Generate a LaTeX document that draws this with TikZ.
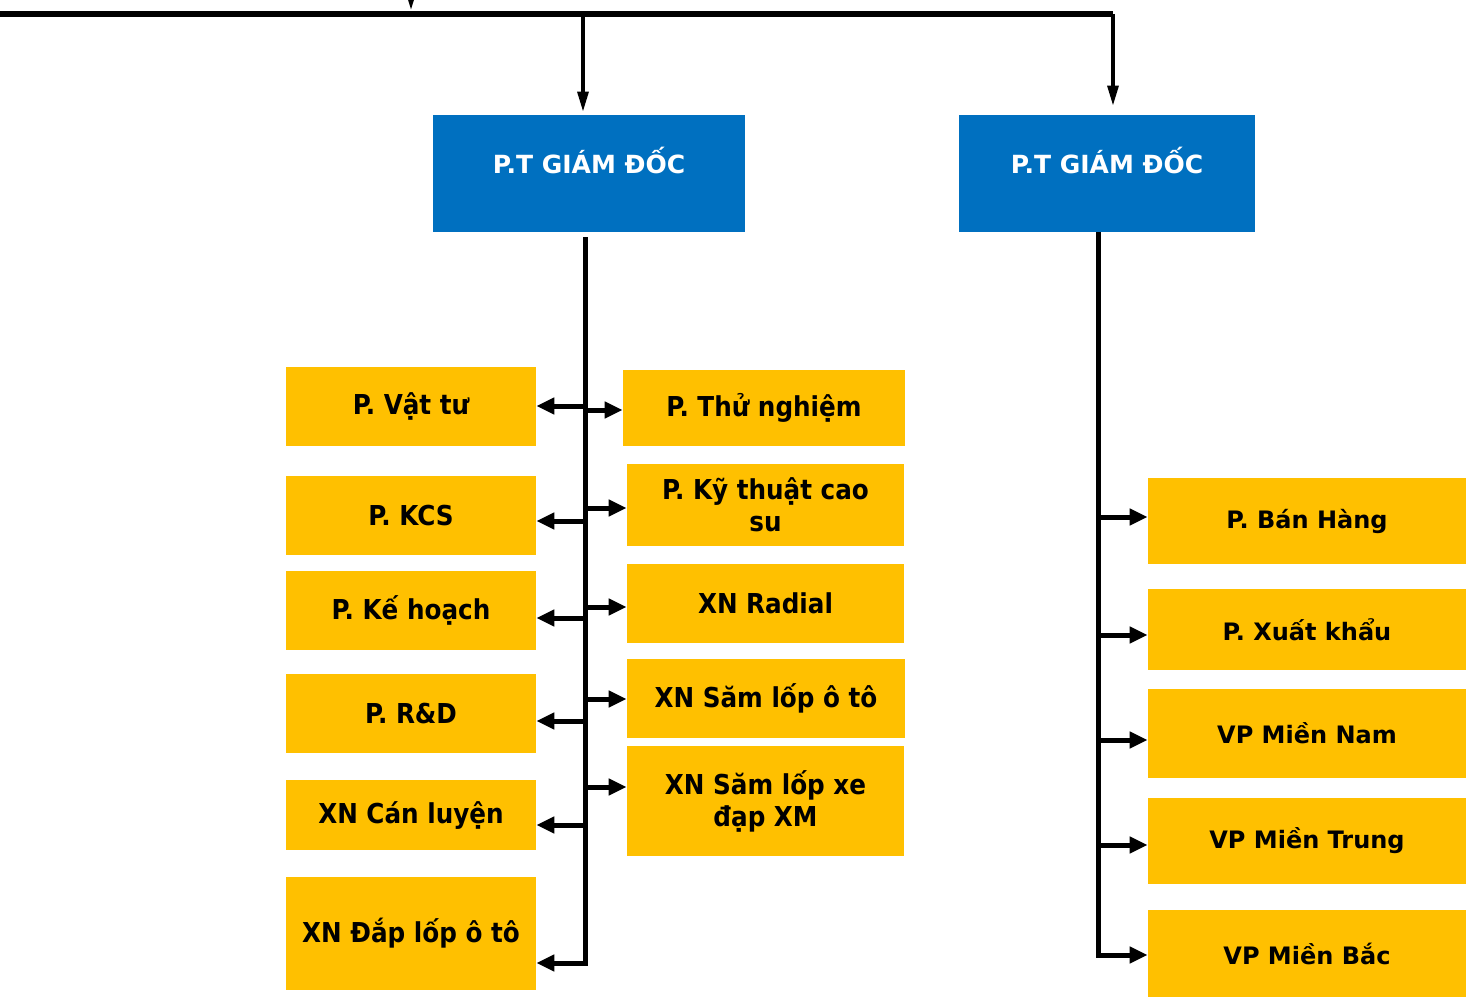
\documentclass[tikz,border=0pt]{standalone}
\usepackage{fontspec}
\setmainfont{DejaVu Sans}
\newfontfamily\condfont{DejaVu Sans Condensed}
\usetikzlibrary{arrows.meta, positioning}

\definecolor{chiefblue}{HTML}{0070C0}
\definecolor{unityellow}{HTML}{FFC000}

\tikzset{
  chief/.style={fill=chiefblue, minimum height=58.5pt, inner sep=0pt},
  chieftext/.style={text=white, font=\bfseries\fontsize{12.5}{15}\selectfont, yshift=6.5pt},
  unit/.style={fill=unityellow, inner sep=0pt, align=center,
    font=\condfont\bfseries\fontsize{13.7}{16}\selectfont},
  office/.style={fill=unityellow, inner sep=0pt, minimum width=159pt,
    font=\bfseries\fontsize{12}{15}\selectfont},
  spine/.style={line width=2.5pt},
  feed/.style={line width=2.5pt, -{Triangle[length=9pt,width=8pt]}},
  drop/.style={line width=1.6pt, -{Triangle[length=10pt,width=5.5pt]}}
}

\begin{document}
\begin{tikzpicture}[x=0.5pt, y=-0.5pt]
  \useasboundingbox (0,0) rectangle (1469,1001);

  % Deputy directors
  \node[chief, minimum width=156pt, label={[chieftext]center:P.T GIÁM ĐỐC}] (pt1) at (589,173.5) {};
  \node[chief, minimum width=148pt, label={[chieftext]center:P.T GIÁM ĐỐC}] (pt2) at (1107,173.5) {};

  % Bus from the director
  \coordinate (busW) at (0,14);
  \coordinate (busE) at (1113,14);
  \coordinate (busIn) at (411,-40);
  \coordinate (tap1) at (583,14);
  \draw[line width=3.2pt] (busW) -- (busE);
  \draw[drop, shorten >=2pt] (busIn) -- (busIn |- busW);
  \draw[drop, shorten >=1.5pt] (tap1) -- (tap1 |- pt1.north);
  \draw[drop, shorten >=4.5pt] (busE) -- (busE |- pt2.north);

  % Left column
  \node[unit, minimum width=125pt, minimum height=39.5pt] (vattu) at (411,406.5) {P. Vật tư};
  \node[unit, minimum width=125pt, minimum height=39.5pt] (kcs) at (411,515.5) {P. KCS};
  \node[unit, minimum width=125pt, minimum height=39.5pt] (kehoach) at (411,610.5) {P. Kế hoạch};
  \node[unit, minimum width=125pt, minimum height=39.5pt] (rd) at (411,713.5) {P. R\&D};
  \node[unit, minimum width=125pt, minimum height=35pt] (canluyen) at (411,815) {XN Cán luyện};
  \node[unit, minimum width=125pt, minimum height=56.5pt] (dap) at (411,933.5) {XN Đắp lốp ô tô};

  % Middle column
  \node[unit, minimum width=141pt, minimum height=38pt] (thunghiem) at (764,408) {P. Thử nghiệm};
  \node[unit, minimum width=138.5pt, minimum height=41pt] (kythuat) at (765.5,505) {P. Kỹ thuật cao\\su};
  \node[unit, minimum width=138.5pt, minimum height=39.5pt] (radial) at (765.5,603.5) {XN Radial};
  \node[unit, minimum width=139pt, minimum height=39.5pt] (samoto) at (766,698.5) {XN Săm lốp ô tô};
  \node[unit, minimum width=138.5pt, minimum height=55pt] (xedap) at (765.5,801) {XN Săm lốp xe\\đạp XM};

  % Right column
  \node[office, minimum height=43pt] (banhang) at (1307,521) {P. Bán Hàng};
  \node[office, minimum height=40.5pt] (xuatkhau) at (1307,629.5) {P. Xuất khẩu};
  \node[office, minimum height=44.5pt] (miennam) at (1307,733.5) {VP Miền Nam};
  \node[office, minimum height=43pt] (mientrung) at (1307,841) {VP Miền Trung};
  \node[office, minimum height=43.5pt] (mienbac) at (1307,953.5) {VP Miền Bắc};

  % Left spine
  \coordinate (spL) at (585,237);
  \coordinate (spLend) at (585,963);
  \draw[feed] (spL) |- (dap.east |- spLend);
  \foreach \n/\y in {vattu/406, kcs/521, kehoach/618, rd/721, canluyen/825} {
    \coordinate (hook) at (0,\y);
    \draw[feed] (spL |- hook) -- (\n.east |- hook);
  }
  \foreach \n/\y in {thunghiem/410, kythuat/508, radial/607, samoto/699, xedap/787} {
    \coordinate (hook) at (0,\y);
    \draw[feed] (spL |- hook) -- (\n.west |- hook);
  }

  % Right spine
  \coordinate (spR) at (1098,232);
  \coordinate (spRend) at (1098,955);
  \draw[feed] (spR) |- (mienbac.west |- spRend);
  \foreach \n/\y in {banhang/517, xuatkhau/635, miennam/740, mientrung/845} {
    \coordinate (hook) at (0,\y);
    \draw[feed] (spR |- hook) -- (\n.west |- hook);
  }
\end{tikzpicture}
\end{document}
